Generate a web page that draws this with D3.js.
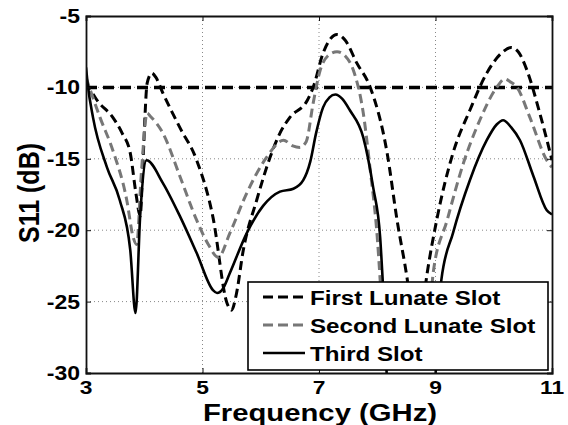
<!DOCTYPE html>
<html>
<head>
<meta charset="utf-8">
<script src="https://cdn.jsdelivr.net/npm/d3@7"></script>
<style>
  body { margin: 0; background: #fff; }
  text { font-family: "Liberation Sans", Arial, sans-serif; font-weight: bold; fill: #000; }
</style>
</head>
<body>
<div id="chart"></div>
<script>
const xTicks = [3, 5, 7, 9, 11];
const yTicks = [-5, -10, -15, -20, -25, -30];
const seriesNames = ["First Lunate Slot", "Second Lunate Slot", "Third Slot"];
const refLevel = -10;

const firstFreq = [3.0, 3.19, 3.46, 3.62, 3.76, 3.86, 3.93, 3.98, 4.05, 4.13, 4.2, 4.32, 4.61, 4.9, 5.18, 5.42, 5.5, 5.58, 5.7, 5.93, 6.16, 6.33, 6.5, 6.8, 6.9, 7.07, 7.31, 7.45, 7.65, 7.88, 8.17, 8.34, 8.51, 8.68, 8.85, 9.02, 9.3, 9.59, 9.88, 10.16, 10.3, 10.42, 10.57, 10.79, 11.0];
const firstS11 = [-9.6, -10.9, -12.1, -13.2, -14.6, -17.5, -19.0, -15.0, -9.7, -9.0, -9.3, -10.4, -12.8, -15.1, -19.1, -25.1, -25.6, -24.5, -21.4, -17.9, -14.9, -13.2, -12.1, -10.9, -10.0, -7.6, -6.3, -6.7, -8.3, -10.0, -14.6, -19.3, -23.3, -28.5, -23.2, -19.3, -14.6, -11.6, -9.0, -7.5, -7.2, -7.5, -8.8, -11.8, -15.1];

const secondFreq = [3.0, 3.24, 3.46, 3.7, 3.81, 3.87, 3.95, 4.05, 4.1, 4.32, 4.61, 4.9, 5.1, 5.27, 5.47, 5.76, 6.1, 6.39, 6.55, 6.67, 6.78, 6.9, 7.02, 7.15, 7.31, 7.45, 7.59, 7.76, 7.88, 8.0, 8.05, 8.15, 8.8, 8.96, 9.2, 9.48, 9.76, 10.05, 10.19, 10.28, 10.4, 10.62, 10.91, 11.0];
const secondS11 = [-9.3, -12.1, -14.4, -17.9, -20.5, -21.0, -16.0, -11.8, -12.0, -13.2, -16.2, -19.3, -21.0, -21.9, -20.2, -17.4, -14.9, -13.7, -14.1, -14.2, -13.8, -11.1, -8.8, -7.8, -7.5, -7.8, -8.8, -11.8, -15.8, -20.5, -23.5, -31.0, -31.0, -23.0, -19.3, -15.3, -12.3, -10.0, -9.4, -9.6, -10.0, -12.1, -15.1, -15.6];

const thirdFreq = [3.0, 3.03, 3.12, 3.36, 3.58, 3.76, 3.85, 3.93, 4.04, 4.32, 4.61, 4.9, 5.18, 5.25, 5.35, 5.47, 5.76, 6.04, 6.33, 6.56, 6.73, 6.85, 6.95, 7.07, 7.18, 7.28, 7.4, 7.53, 7.76, 7.93, 8.05, 8.1, 8.2, 8.95, 9.1, 9.3, 9.59, 9.88, 10.05, 10.16, 10.3, 10.45, 10.68, 10.91, 11.0];
const thirdS11 = [-8.6, -9.8, -12.1, -15.6, -17.9, -21.4, -25.8, -19.0, -15.1, -16.7, -19.0, -21.6, -24.2, -24.4, -24.1, -23.0, -20.2, -18.3, -17.3, -17.1, -16.5, -15.2, -13.2, -11.4, -10.7, -10.5, -10.8, -11.6, -13.5, -17.0, -20.5, -24.0, -32.0, -32.0, -23.5, -20.2, -16.5, -13.7, -12.6, -12.3, -12.8, -13.7, -16.2, -18.6, -18.9];

const W = 568, H = 425;
const margin = { top: 16, right: 16, bottom: 52, left: 86 };
const width = W - margin.left - margin.right;
const height = H - margin.top - margin.bottom;

const svg = d3.select("#chart").append("svg")
  .attr("width", W)
  .attr("height", H);

const g = svg.append("g")
  .attr("transform", `translate(${margin.left},${margin.top})`);

const x = d3.scaleLinear().domain([3, 11]).range([0, width]);
const y = d3.scaleLinear().domain([-30, -5]).range([height, 0]);

// dotted grid
g.append("g").selectAll("line")
  .data(xTicks.slice(1, -1))
  .enter().append("line")
  .attr("x1", d => x(d)).attr("x2", d => x(d))
  .attr("y1", 0).attr("y2", height)
  .attr("stroke", "#888").attr("stroke-width", 1).attr("stroke-dasharray", "1,3");

g.append("g").selectAll("line")
  .data(yTicks.slice(1, -1))
  .enter().append("line")
  .attr("x1", 0).attr("x2", width)
  .attr("y1", d => y(d)).attr("y2", d => y(d))
  .attr("stroke", "#888").attr("stroke-width", 1).attr("stroke-dasharray", "1,3");

// curves
g.append("clipPath").attr("id", "plotClip")
  .append("rect").attr("width", width).attr("height", height);

const line = d3.line()
  .x(d => x(d[0]))
  .y(d => y(d[1]))
  .curve(d3.curveMonotoneX);

const series = [
  { name: seriesNames[0], freq: firstFreq, s11: firstS11, color: "#000", dash: "9,5", w: 3 },
  { name: seriesNames[1], freq: secondFreq, s11: secondS11, color: "#777", dash: "9,5", w: 3 },
  { name: seriesNames[2], freq: thirdFreq, s11: thirdS11, color: "#000", dash: null, w: 2.6 }
];

const plot = g.append("g").attr("clip-path", "url(#plotClip)");

plot.append("line")
  .attr("x1", x(3)).attr("x2", x(11))
  .attr("y1", y(refLevel)).attr("y2", y(refLevel))
  .attr("stroke", "#000").attr("stroke-width", 3.5).attr("stroke-dasharray", "11,6");

series.forEach(s => {
  plot.append("path")
    .datum(s.freq.map((f, i) => [f, s.s11[i]]))
    .attr("fill", "none")
    .attr("stroke", s.color)
    .attr("stroke-width", s.w)
    .attr("stroke-dasharray", s.dash)
    .attr("stroke-linejoin", "round")
    .attr("d", line);
});

// axes frame with inward ticks
const xAxisB = g.append("g").attr("transform", `translate(0,${height})`)
  .call(d3.axisBottom(x).tickValues(xTicks).tickSize(-5).tickFormat(""));
const xAxisT = g.append("g")
  .call(d3.axisTop(x).tickValues(xTicks).tickSize(-5).tickFormat(""));
const yAxisL = g.append("g")
  .call(d3.axisLeft(y).tickValues(yTicks).tickSize(-5).tickFormat(""));
const yAxisR = g.append("g").attr("transform", `translate(${width},0)`)
  .call(d3.axisRight(y).tickValues(yTicks).tickSize(-5).tickFormat(""));
[xAxisB, xAxisT, yAxisL, yAxisR].forEach(a => {
  a.select(".domain").attr("stroke", "#111").attr("stroke-width", 1.8);
  a.selectAll(".tick line").attr("stroke", "#111").attr("stroke-width", 1);
});

// tick labels (figure is horizontally stretched)
const sx = 1.15;
g.append("g").selectAll("text")
  .data(xTicks)
  .enter().append("text")
  .attr("transform", d => `translate(${x(d)},${height + 21}) scale(${sx + 0.05},1)`)
  .attr("text-anchor", "middle")
  .style("font-size", "19px")
  .text(d => d);

g.append("g").selectAll("text")
  .data(yTicks)
  .enter().append("text")
  .attr("transform", d => `translate(-6,${y(d) + 7}) scale(${sx},1)`)
  .attr("text-anchor", "end")
  .style("font-size", "20px")
  .text(d => d);

// axis titles
svg.append("text")
  .attr("transform", `translate(320,421) scale(1.22,1)`)
  .attr("text-anchor", "middle")
  .style("font-size", "24px")
  .text("Frequency (GHz)");

svg.append("text")
  .attr("transform", `translate(39,193) scale(1.2,1) rotate(-90)`)
  .attr("text-anchor", "middle")
  .style("font-size", "25px")
  .text("S11 (dB)");

// legend
const legend = svg.append("g");
legend.append("rect")
  .attr("x", 248).attr("y", 282)
  .attr("width", 300).attr("height", 88)
  .attr("fill", "#fff").attr("stroke", "#000").attr("stroke-width", 1.6);

const rowY = [297, 325, 353];
series.forEach((s, i) => {
  legend.append("line")
    .attr("x1", 263).attr("x2", 305)
    .attr("y1", rowY[i]).attr("y2", rowY[i])
    .attr("stroke", s.color).attr("stroke-width", s.w)
    .attr("stroke-dasharray", s.dash ? "10,5" : null);
  legend.append("text")
    .attr("transform", `translate(310,${rowY[i] + 8}) scale(1.15,1)`)
    .style("font-size", "21px")
    .text(s.name);
});
</script>
</body>
</html>
